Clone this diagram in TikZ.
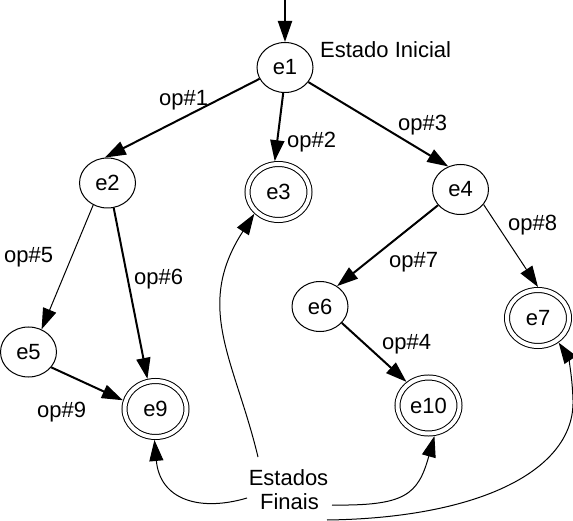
\documentclass[tikz,border=0pt]{standalone}
\usepackage{fontspec}
\setmainfont{Liberation Sans}
\usetikzlibrary{arrows.meta,shapes.geometric}
\begin{document}
\begin{tikzpicture}[x=1pt,y=-1pt,
  every node/.style={font=\fontsize{22}{26}\selectfont},
  st/.style={ellipse,draw,line width=1pt,minimum width=56pt,minimum height=50pt,inner sep=0pt},
  fs/.style={ellipse,draw,line width=1pt,double,double distance=4pt,minimum width=62pt,minimum height=56pt,inner sep=0pt,outer sep=3pt},
  lbl/.style={anchor=base west,inner sep=0pt},
  tip/.style={-{Triangle[length=21pt,width=14pt]}},
  thk/.style={tip,line width=2pt},
  thn/.style={tip,line width=1pt},
  crv/.style={tip,line width=1pt}]
\useasboundingbox (0,0) rectangle (573,521);

% states
\node[st] (e1) at (285,67.5) {e1};
\node[st] (e2) at (107.5,183) {e2};
\node[fs] (e3) at (278.5,192) {e3};
\node[st] (e4) at (460.5,189.5) {e4};
\node[st] (e5) at (28.5,352) {e5};
\node[st] (e6) at (320,306.5) {e6};
\node[fs] (e7) at (538,318) {e7};
\node[fs] (e9) at (155.5,409) {e9};
\node[fs] (e10) at (428.5,405.5) {e10};

% labels
\node[lbl] (ini) at (320,58) {Estado Inicial};
\node[lbl] (l1) at (159,106) {op\#1};
\node[lbl] (l2) at (287,148) {op\#2};
\node[lbl] (l3) at (398,131) {op\#3};
\node[lbl] (l5) at (4,263) {op\#5};
\node[lbl] (l6) at (134,285) {op\#6};
\node[lbl] (l9) at (37,417) {op\#9};
\node[lbl] (l7) at (389,268) {op\#7};
\node[lbl] (l8) at (508,231) {op\#8};
\node[lbl] (l4) at (382,349) {op\#4};
\node[anchor=base,inner sep=0pt] (est) at (288.5,485) {Estados};
\node[anchor=base,inner sep=0pt] (fin) at (289.5,509) {Finais};

% start arrow
\coordinate (top) at (285,0);
\draw[thk] (top) -- (e1.north);

% transitions
\draw[thk] (e1.204) -- (e2.96);
\draw[thk] (e1.266) -- (e3.97);
\draw[thk] (e1.328) -- (e4.118);
\draw[thn] (e2.237) -- (e5.60);
\draw[thk] (e2.284) -- (e9.105);
\draw[thk] (e5.326) -- (e9.165);
\draw[thk] (e4.215) -- (e6.50);
\draw[thn] (e4.327) -- (e7.90);
\draw[thk] (e6.323) -- (e10.133);

% pointers from "Estados Finais"
\coordinate (p3) at (258,457);
\coordinate (p9) at (247,498);
\coordinate (p10) at (332,505);
\coordinate (p7) at (327,520);
\draw[crv] (p3) .. controls (234.7,359.8) and (193.7,307.3) .. (e3.222);
\draw[crv] (p9) .. controls (200,512) and (160,500) .. (e9.268);
\draw[crv] (p10) .. controls (405,506) and (418,495) .. (e10.281);
\draw[crv] (p7) .. controls (480,518) and (575,470) .. (573,400) .. controls (572,370) and (567,355) .. (e7.310);
\end{tikzpicture}
\end{document}
